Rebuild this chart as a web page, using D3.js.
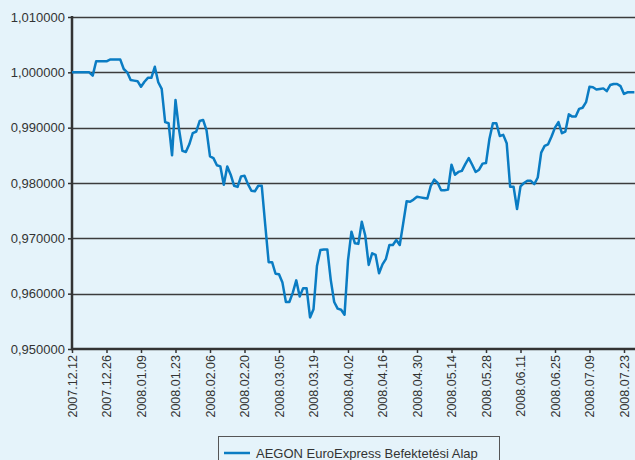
<!DOCTYPE html>
<html><head><meta charset="utf-8">
<script src="https://cdn.jsdelivr.net/npm/d3@7"></script>
<style>
html,body{margin:0;padding:0;background:#e5f3fa;}
svg{display:block;}
text{font-family:"Liberation Sans",Arial,sans-serif;fill:#333;}
</style></head><body>
<svg id="c" width="635" height="460"></svg>
<script>
const seriesName = "AEGON EuroExpress Befektetési Alap";
const tickLabels = ["2007.12.12","2007.12.26","2008.01.09","2008.01.23","2008.02.06","2008.02.20","2008.03.05","2008.03.19","2008.04.02","2008.04.16","2008.04.30","2008.05.14","2008.05.28","2008.06.11","2008.06.25","2008.07.09","2008.07.23"];
const yTicks = [0.95,0.96,0.97,0.98,0.99,1.00,1.01];
const values = [
1.0000,1.0000,1.0000,1.0000,1.0000,1.0000,0.9994,1.0020,1.0020,1.0020,
1.0020,1.0023,1.0023,1.0023,1.0023,1.0006,1.0000,0.9986,0.9985,0.9984,
0.9974,0.9983,0.9990,0.9990,1.0010,0.9982,0.9970,0.9910,0.9908,0.9850,
0.9950,0.9898,0.9858,0.9856,0.9870,0.9890,0.9893,0.9912,0.9914,0.9895,
0.9848,0.9845,0.9832,0.9830,0.9797,0.9830,0.9815,0.9795,0.9793,0.9812,
0.9813,0.9798,0.9786,0.9785,0.9795,0.9795,0.9725,0.9657,0.9657,0.9636,
0.9635,0.9620,0.9585,0.9585,0.9602,0.9624,0.9595,0.9610,0.9610,0.9557,
0.9572,0.9650,0.9679,0.9680,0.9680,0.9625,0.9585,0.9573,0.9571,0.9562,
0.9660,0.9712,0.9691,0.9690,0.9730,0.9705,0.9652,0.9673,0.9670,0.9637,
0.9653,0.9663,0.9688,0.9688,0.9697,0.9688,0.9727,0.9767,0.9766,0.9770,
0.9775,0.9774,0.9773,0.9772,0.9795,0.9806,0.9800,0.9787,0.9787,0.9788,
0.9833,0.9815,0.9820,0.9822,0.9834,0.9845,0.9833,0.9820,0.9824,0.9835,
0.9836,0.9880,0.9908,0.9908,0.9885,0.9887,0.9872,0.9793,0.9793,0.9753,
0.9794,0.9800,0.9804,0.9804,0.9798,0.9810,0.9855,0.9867,0.9870,0.9884,
0.9900,0.9910,0.9890,0.9893,0.9924,0.9920,0.9920,0.9934,0.9936,0.9946,
0.9974,0.9973,0.9969,0.9970,0.9971,0.9966,0.9977,0.9979,0.9979,0.9975,
0.9961,0.9964,0.9964,0.9964
];
const tickEvery = 10;

const svg = d3.select("#c");
const L = 72, T = 17, B = 349, R = 635;
const x = d3.scaleLinear().domain([0, values.length - 1]).range([L, L + (values.length - 1) * 3.45]);
const y = d3.scaleLinear().domain([0.95, 1.01]).range([B, T]);
const fmt = d => d3.format(".6f")(d).replace(".", ",");

// gridlines
svg.append("g").selectAll("line").data(yTicks.slice(1)).join("line")
  .attr("x1", L).attr("x2", R)
  .attr("y1", d => Math.round(y(d)) + 0.5).attr("y2", d => Math.round(y(d)) + 0.5)
  .attr("stroke", "#3c3c3c").attr("stroke-width", 1.5);

// y axis
const ya = svg.append("g").attr("transform", `translate(${L},0)`)
  .call(d3.axisLeft(y).tickValues(yTicks).tickFormat(fmt).tickSize(4).tickPadding(3));
ya.select(".domain").remove();
ya.selectAll(".tick line").attr("stroke", "#333").attr("stroke-width", 1.5);
ya.selectAll(".tick text").style("font-size", "13px").attr("fill", "#333")
  .style("font-family", '"Liberation Sans",Arial,sans-serif');

// x axis
const xt = d3.range(0, values.length, tickEvery).filter(i => i / tickEvery < tickLabels.length);
const xa = svg.append("g").attr("transform", `translate(0,${B})`)
  .call(d3.axisBottom(x).tickValues(xt).tickFormat(i => tickLabels[i / tickEvery]).tickSize(4));
xa.select(".domain").remove();
xa.selectAll(".tick line").attr("stroke", "#333").attr("stroke-width", 1.5);
xa.selectAll(".tick text")
  .style("font-size", "12.5px").attr("fill", "#333")
  .style("font-family", '"Liberation Sans",Arial,sans-serif')
  .attr("text-anchor", "end").attr("dy", "0.35em")
  .attr("transform", "translate(0,6) rotate(-90)").attr("x", 0).attr("y", 0);

// axis lines
svg.append("line").attr("x1", L).attr("x2", L).attr("y1", T - 1).attr("y2", B + 1)
  .attr("stroke", "#333").attr("stroke-width", 2.5);
svg.append("line").attr("x1", L - 1).attr("x2", R).attr("y1", B).attr("y2", B)
  .attr("stroke", "#333").attr("stroke-width", 2.5);

// series line
svg.append("path").datum(values)
  .attr("d", d3.line().x((d, i) => x(i)).y(d => y(d)))
  .attr("fill", "none").attr("stroke", "#0a7cc3").attr("stroke-width", 2.5)
  .attr("stroke-linejoin", "round");

// legend
const lg = svg.append("g");
lg.append("rect").attr("x", 218.5).attr("y", 436.5).attr("width", 281).attr("height", 30)
  .attr("fill", "none").attr("stroke", "#555").attr("stroke-width", 1);
lg.append("line").attr("x1", 224).attr("x2", 250).attr("y1", 453).attr("y2", 453)
  .attr("stroke", "#0a7cc3").attr("stroke-width", 2.5);
lg.append("text").attr("x", 256).attr("y", 458).style("font-size", "13px").text(seriesName);
</script>
</body></html>
